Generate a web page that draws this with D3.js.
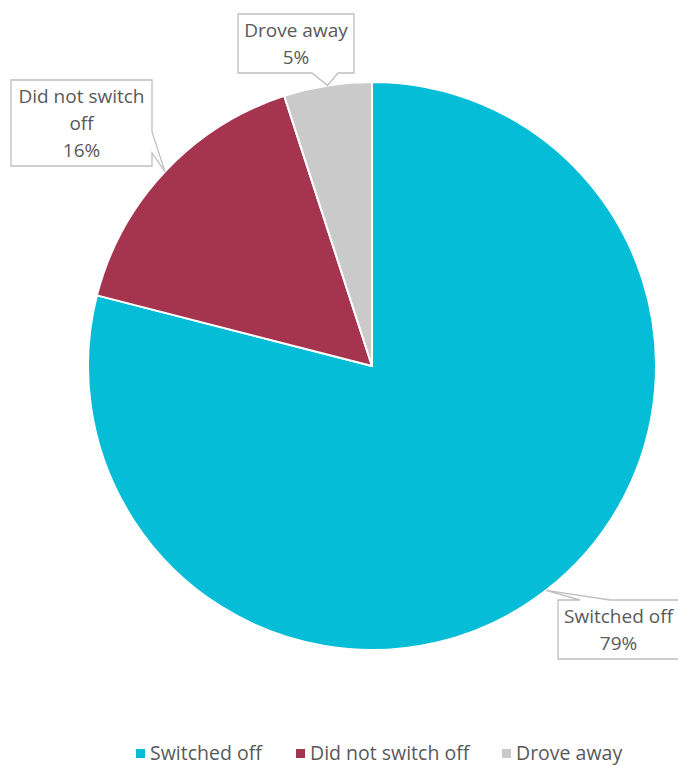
<!DOCTYPE html>
<html>
<head>
<meta charset="utf-8">
<script src="https://cdn.jsdelivr.net/npm/d3@7"></script>
<style>
  body { margin: 0; background: #fff; }
  text { font-family: "Open Sans", sans-serif; fill: #595959; }
</style>
</head>
<body>
<div id="chart"></div>
<script>
// pie data
const categories = ["Switched off", "Did not switch off", "Drove away"];
const values = [79, 16, 5];
const colors = ["#05BDD7", "#A5344E", "#CACACA"];

// label callout boxes: [x, y, w, h], text lines
const labelBoxes = [
    { box: [558, 600, 121, 59], lines: ["Switched off", "79%"], side: "top", notch: [580, 610] },
    { box: [11, 80, 141, 86], lines: ["Did not switch", "off", "16%"], side: "right", notch: [132, 153] },
    { box: [238, 14, 116, 59], lines: ["Drove away", "5%"], side: "bottom", notch: [312, 338] }
];

const W = 678, H = 765;
const cx = 372, cy = 366, r = 284;

const svg = d3.select("#chart").append("svg")
    .attr("width", W)
    .attr("height", H);

const pie = d3.pie().sort(null).value(d => d);
const arcs = pie(values);
const arc = d3.arc().innerRadius(0).outerRadius(r);

const g = svg.append("g").attr("transform", `translate(${cx},${cy})`);

g.selectAll("path.slice")
    .data(arcs)
    .enter().append("path")
    .attr("class", "slice")
    .attr("d", arc)
    .attr("fill", (d, i) => colors[i])
    .attr("stroke", "#fff")
    .attr("stroke-width", 2)
    .attr("stroke-linejoin", "round");

// callouts
arcs.forEach((a, i) => {
    const lb = labelBoxes[i];
    const mid = (a.startAngle + a.endAngle) / 2;
    const tx = cx + r * Math.sin(mid), ty = cy - r * Math.cos(mid);
    const [x, y, w, h] = lb.box;
    const p = d3.path();
    if (lb.side === "top") {
        p.moveTo(x, y);
        p.lineTo(lb.notch[0], y); p.lineTo(tx, ty); p.lineTo(lb.notch[1], y);
        p.lineTo(x + w, y); p.lineTo(x + w, y + h); p.lineTo(x, y + h); p.closePath();
    } else if (lb.side === "right") {
        p.moveTo(x, y); p.lineTo(x + w, y);
        p.lineTo(x + w, lb.notch[0]); p.lineTo(tx, ty); p.lineTo(x + w, lb.notch[1]);
        p.lineTo(x + w, y + h); p.lineTo(x, y + h); p.closePath();
    } else {
        p.moveTo(x, y); p.lineTo(x + w, y); p.lineTo(x + w, y + h);
        p.lineTo(lb.notch[1], y + h); p.lineTo(tx, ty); p.lineTo(lb.notch[0], y + h);
        p.lineTo(x, y + h); p.closePath();
    }
    svg.append("path")
        .attr("d", p.toString())
        .attr("fill", "#fff")
        .attr("stroke", "#BFBFBF")
        .attr("stroke-width", 1.3);

    const lineH = 27;
    const t = svg.append("text")
        .attr("text-anchor", "middle")
        .attr("font-size", 19);
    lb.lines.forEach((s, j) => {
        t.append("tspan")
            .attr("x", x + w / 2)
            .attr("y", y + h / 2 - (lb.lines.length - 1) * lineH / 2 + j * lineH + 7)
            .text(s);
    });
});

// legend
const legendX = [136, 296, 502];
const legend = svg.append("g").attr("transform", "translate(0,753)");
categories.forEach((c, i) => {
    legend.append("rect")
        .attr("x", legendX[i]).attr("y", -4)
        .attr("width", 9).attr("height", 9)
        .attr("fill", colors[i]);
    legend.append("text")
        .attr("x", legendX[i] + 14).attr("y", 7)
        .attr("font-size", 19.5)
        .text(c);
});
</script>
</body>
</html>
